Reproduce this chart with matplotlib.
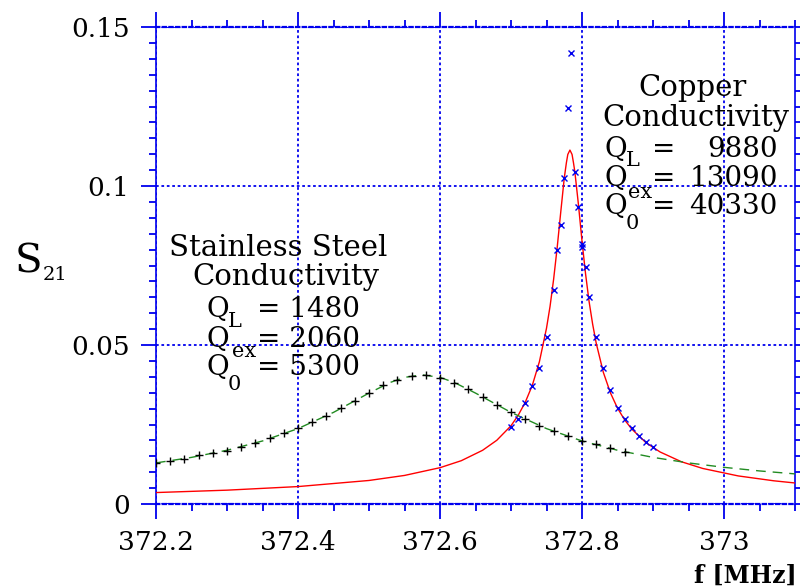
import matplotlib
matplotlib.use("Agg")
import matplotlib.pyplot as plt
from matplotlib.ticker import MultipleLocator

plt.rcParams['font.family'] = ['DejaVu Serif']

# ---- data ----
# Stainless steel measured points (+)
ss_f = [372.20, 372.22, 372.24, 372.26, 372.28, 372.30, 372.32, 372.34, 372.36, 372.38,
        372.40, 372.42, 372.44, 372.46, 372.48, 372.50, 372.52, 372.54, 372.56, 372.58,
        372.60, 372.62, 372.64, 372.66, 372.68, 372.70, 372.72, 372.74, 372.76, 372.78,
        372.80, 372.82, 372.84, 372.86]
ss_s = [0.01289, 0.01352, 0.01415, 0.01541, 0.01604, 0.01667, 0.01792, 0.01918, 0.02075, 0.02233,
        0.02390, 0.02579, 0.02767, 0.03019, 0.03239, 0.03491, 0.03742, 0.03899, 0.04025, 0.04057,
        0.03962, 0.03805, 0.03616, 0.03365, 0.03113, 0.02893, 0.02673, 0.02453, 0.02296, 0.02138,
        0.01981, 0.01887, 0.01761, 0.01635]

# Stainless steel fit (green dashed)
ssfit_f = [372.20, 372.25, 372.30, 372.35, 372.40, 372.45, 372.50, 372.53, 372.55, 372.575,
           372.60, 372.62, 372.65, 372.70, 372.75, 372.80, 372.85, 372.90, 372.95, 373.00,
           373.05, 373.10]
ssfit_s = [0.01292, 0.01466, 0.01690, 0.01982, 0.02371, 0.02881, 0.03488, 0.03823, 0.03982, 0.04060,
           0.03982, 0.03823, 0.03488, 0.02881, 0.02371, 0.01982, 0.01690, 0.01466, 0.01292, 0.01153,
           0.01040, 0.00947]

# Copper measured points (x)
cu_f = [372.700, 372.710, 372.720, 372.730, 372.740, 372.750, 372.760, 372.765, 372.770,
        372.775, 372.780, 372.785, 372.790, 372.795, 372.800, 372.800, 372.805, 372.810,
        372.820, 372.830, 372.840, 372.850, 372.860, 372.870, 372.880, 372.890, 372.900]
cu_s = [0.0242, 0.0267, 0.0318, 0.0371, 0.0428, 0.0525, 0.0673, 0.0799, 0.0877,
        0.1025, 0.1245, 0.1418, 0.1044, 0.0934, 0.0808, 0.0818, 0.0745, 0.0651,
        0.0525, 0.0428, 0.0358, 0.0302, 0.0267, 0.0239, 0.0214, 0.0195, 0.0179]

# Copper fit (red solid)
cufit_f = [372.200, 372.300, 372.400, 372.500, 372.550, 372.600, 372.630, 372.660, 372.680,
           372.700, 372.710, 372.720, 372.730, 372.740, 372.750, 372.755, 372.760, 372.765,
           372.770, 372.775, 372.778, 372.780, 372.783, 372.786, 372.788, 372.790, 372.795,
           372.800, 372.805, 372.810, 372.815, 372.820, 372.830, 372.840, 372.850, 372.860,
           372.870, 372.890, 372.910, 372.940, 372.970, 373.020, 373.070, 373.100]
cufit_s = [0.00360, 0.00435, 0.00548, 0.00740, 0.00898, 0.01142, 0.01362, 0.01689, 0.02004,
           0.02460, 0.02785, 0.03195, 0.03731, 0.04475, 0.05527, 0.06215, 0.07061, 0.08054,
           0.09165, 0.10247, 0.10730, 0.10992, 0.11130, 0.10992, 0.10730, 0.10435, 0.09412,
           0.08269, 0.07239, 0.06363, 0.05654, 0.05059, 0.04143, 0.03497, 0.03015, 0.02647,
           0.02359, 0.01930, 0.01636, 0.01329, 0.01118, 0.00883, 0.00730, 0.00661]

xticks = [372.2, 372.4, 372.6, 372.8, 373.0]
xticklabels = ["372.2", "372.4", "372.6", "372.8", "373"]
yticks = [0, 0.05, 0.1, 0.15]
yticklabels = ["0", "0.05", "0.1", "0.15"]

BLUE = '#0000ee'
W, H = 800, 588

fig = plt.figure(figsize=(8, 5.88), dpi=100)
ax = fig.add_axes([156 / W, 1 - 504 / H, (795 - 156) / W, (504 - 27) / H])

ax.set_xlim(372.2, 373.1)
ax.set_ylim(0, 0.15)

ax.plot(cufit_f, cufit_s, color='red', lw=1.0, zorder=3)
ax.plot(ssfit_f, ssfit_s, color='#228b22', lw=1.0, dashes=(7, 5), zorder=3)
ax.plot(ss_f, ss_s, ls='none', marker='+', ms=6, mew=1.0, color='black', zorder=4)
ax.plot(cu_f, cu_s, ls='none', marker='x', ms=4.5, mew=1.0, color=BLUE, zorder=4)

ax.set_xticks(xticks)
ax.set_xticklabels(xticklabels)
ax.set_yticks(yticks)
ax.set_yticklabels(yticklabels)
ax.xaxis.set_minor_locator(MultipleLocator(0.05))
ax.yaxis.set_minor_locator(MultipleLocator(0.005))
ax.tick_params(which='both', direction='out', top=True, right=True, color=BLUE,
               width=1.3, labelsize=19)
ax.tick_params(which='major', length=11)
ax.tick_params(which='minor', length=5)
ax.tick_params(axis='x', pad=8)
ax.tick_params(axis='y', pad=8)

ax.grid(True, which='major', color=BLUE, ls=(0, (1.5, 1.5)), lw=1.3, zorder=1)
for side in ['left', 'right']:
    ax.spines[side].set_color(BLUE)
    ax.spines[side].set_linewidth(1.2)
for side in ['top', 'bottom']:
    ax.spines[side].set_color(BLUE)
    ax.spines[side].set_linewidth(1.6)
    ax.spines[side].set_linestyle((0, (1.5, 1.5)))


def t(x, y, s, size=20, ha='left', **kw):
    fig.text(x / W, 1 - y / H, s, fontsize=size, ha=ha, va='baseline', **kw)


# axis labels
t(15, 272, "S", size=29)
t(43, 280, "21", size=14)
t(797, 583, "f [MHz]", size=17, ha='right', fontweight='bold')

# Stainless steel annotation
t(278, 256, "Stainless Steel", size=21, ha='center')
t(286, 285, "Conductivity", size=21, ha='center')
for yb, sub, sx, sy, val in [(317, "L", 228, 327, "= 1480"),
                             (347, "ex", 232, 357, "= 2060"),
                             (375, "0", 228, 390, "= 5300")]:
    t(207, yb, "Q")
    t(sx, sy, sub, size=15)
    t(257, yb, val)

# Copper annotation
t(692, 96, "Copper", size=21, ha='center')
t(696, 126, "Conductivity", size=21, ha='center')
for yb, sub, sx, sy, val in [(157, "L", 626, 166, "9880"),
                             (186, "ex", 628, 198, "13090"),
                             (214, "0", 626, 229, "40330")]:
    t(604, yb, "Q")
    t(sx, sy, sub, size=15)
    t(652, yb, "=")
    t(778, yb, val, ha='right')

fig.savefig("out.png", dpi=100)
